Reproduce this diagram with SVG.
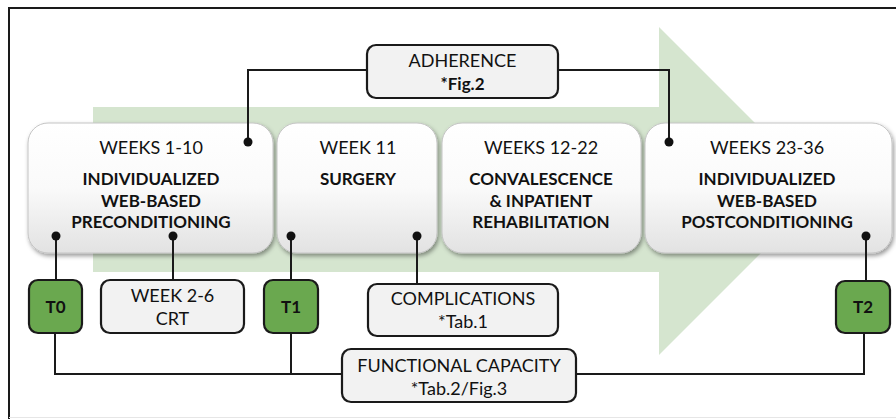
<svg xmlns="http://www.w3.org/2000/svg" width="896" height="419" viewBox="0 0 896 419">
<defs>
<linearGradient id="phaseGrad" x1="0" y1="0" x2="0" y2="1">
<stop offset="0" stop-color="#ffffff"/>
<stop offset="0.5" stop-color="#fafafa"/>
<stop offset="1" stop-color="#e2e2e2"/>
</linearGradient>
<filter id="shadow" x="-10%" y="-10%" width="125%" height="130%">
<feDropShadow dx="1.5" dy="2.5" stdDeviation="2.2" flood-color="#000" flood-opacity="0.4"/>
</filter>
</defs>
<style>
.frame{fill:none;stroke:#1a1a1a;stroke-width:2}
.arrow{fill:#d5e5cf}
.phase{fill:url(#phaseGrad);stroke:#c4c4c4;stroke-width:1;filter:url(#shadow)}
.box{fill:#f2f2f2;stroke:#1a1a1a;stroke-width:2.2}
.tbox{fill:#6aa84f;stroke:#1a1a1a;stroke-width:2.2}
.conn{fill:none;stroke:#1a1a1a;stroke-width:2}
.dot{fill:#111}
text{font-family:Lato,"Open Sans","Liberation Sans",sans-serif;fill:#111;text-anchor:middle}
.reg{font-size:18px}
.bold{font-size:17px;font-weight:bold}
.tl{font-size:17px;font-weight:bold}
</style>
<rect width="896" height="419" fill="#ffffff"/>
<path class="frame" d="M9,419 V8 H896"/>
<line x1="9" y1="417.5" x2="896" y2="417.5" stroke="#e6e6e6" stroke-width="1"/>
<polygon class="arrow" points="93,107 659,107 659,27 823,191 659,355 659,272 93,272"/>

<g id="phase1">
<rect class="phase" x="28" y="123" width="245" height="130" rx="20"/>
<text class="reg" x="151" y="154">WEEKS 1-10</text>
<text class="bold" x="151" y="185">INDIVIDUALIZED</text>
<text class="bold" x="151" y="207">WEB-BASED</text>
<text class="bold" x="151" y="228">PRECONDITIONING</text>
</g>
<g id="phase2">
<rect class="phase" x="277" y="123" width="160" height="130" rx="20"/>
<text class="reg" x="358" y="154">WEEK 11</text>
<text class="bold" x="358" y="185">SURGERY</text>
</g>
<g id="phase3">
<rect class="phase" x="442" y="123" width="199" height="130" rx="20"/>
<text class="reg" x="541" y="154">WEEKS 12-22</text>
<text class="bold" x="541" y="185">CONVALESCENCE</text>
<text class="bold" x="541" y="207">&amp; INPATIENT</text>
<text class="bold" x="541" y="228">REHABILITATION</text>
</g>
<g id="phase4">
<rect class="phase" x="645" y="123" width="247" height="130" rx="20"/>
<text class="reg" x="767" y="154">WEEKS 23-36</text>
<text class="bold" x="767" y="185">INDIVIDUALIZED</text>
<text class="bold" x="767" y="207">WEB-BASED</text>
<text class="bold" x="767" y="228">POSTCONDITIONING</text>
</g>

<g id="connectors">
<path class="conn" d="M367,70 H248 V142"/>
<path class="conn" d="M558,70 H669 V142"/>
<path class="conn" d="M56,236 V280"/>
<path class="conn" d="M173,236 V280"/>
<path class="conn" d="M291,236 V280"/>
<path class="conn" d="M417,236 V284"/>
<path class="conn" d="M866,236 V281"/>
<path class="conn" d="M55,333 V374 H342"/>
<path class="conn" d="M291,333 V374"/>
<path class="conn" d="M864,333 V374 H576"/>
<circle class="dot" cx="248" cy="142" r="4.5"/>
<circle class="dot" cx="669" cy="142" r="4.5"/>
<circle class="dot" cx="56" cy="236" r="4.5"/>
<circle class="dot" cx="173" cy="236" r="4.5"/>
<circle class="dot" cx="291" cy="236" r="4.5"/>
<circle class="dot" cx="417" cy="236" r="4.5"/>
<circle class="dot" cx="866" cy="236" r="4.5"/>
</g>

<g id="adherence">
<rect class="box" x="367" y="45" width="191" height="53" rx="9"/>
<text class="reg" x="462.5" y="67">ADHERENCE</text>
<text class="bold" x="462.5" y="90">*Fig.2</text>
</g>
<g id="t0">
<rect class="tbox" x="29" y="280" width="53" height="53" rx="9"/>
<text class="tl" x="55.5" y="313">T0</text>
</g>
<g id="crt">
<rect class="box" x="101" y="280" width="143" height="53" rx="9"/>
<text class="reg" x="172.5" y="302">WEEK 2-6</text>
<text class="reg" x="172.5" y="325">CRT</text>
</g>
<g id="t1">
<rect class="tbox" x="264" y="280" width="54" height="53" rx="9"/>
<text class="tl" x="291" y="313">T1</text>
</g>
<g id="complications">
<rect class="box" x="368" y="284" width="190" height="52" rx="9"/>
<text class="reg" x="463" y="305">COMPLICATIONS</text>
<text class="reg" x="463" y="328">*Tab.1</text>
</g>
<g id="functional">
<rect class="box" x="342" y="349" width="234" height="53" rx="9"/>
<text class="reg" x="459" y="372">FUNCTIONAL CAPACITY</text>
<text class="reg" x="459" y="395">*Tab.2/Fig.3</text>
</g>
<g id="t2">
<rect class="tbox" x="836" y="281" width="54" height="52" rx="9"/>
<text class="tl" x="863" y="313">T2</text>
</g>
</svg>
